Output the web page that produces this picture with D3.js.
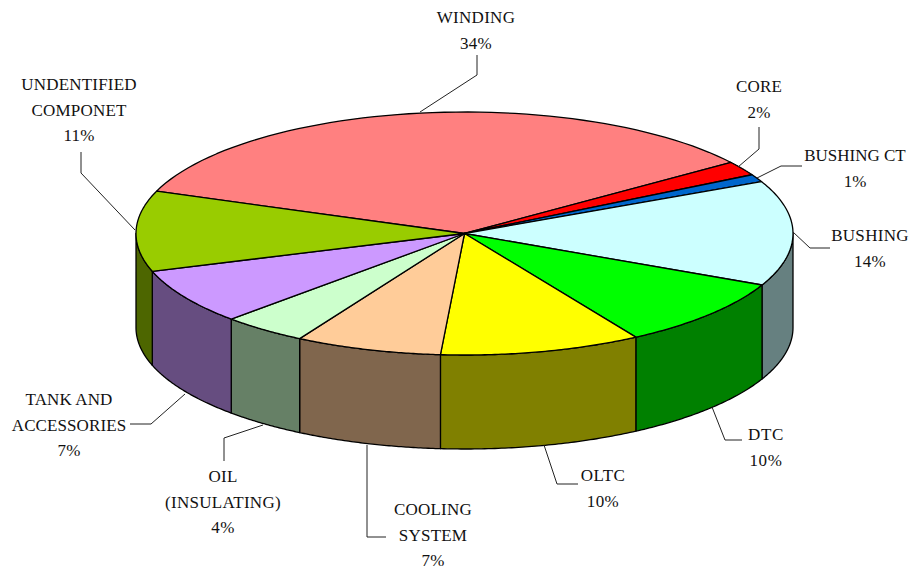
<!DOCTYPE html>
<html><head><meta charset="utf-8">
<script src="https://cdn.jsdelivr.net/npm/d3@7"></script>
<style>html,body{margin:0;padding:0;background:#fff}svg{display:block}
text{font-family:"Liberation Serif",serif;font-size:17px;fill:#111;text-anchor:middle}</style>
</head><body><svg id="c" width="909" height="569"></svg>
<script>
const categories=["WINDING","CORE","BUSHING CT","BUSHING","DTC","OLTC","COOLING SYSTEM","OIL (INSULATING)","TANK AND ACCESSORIES","UNDENTIFIED COMPONET"];
const drawnShares=[34.4,1.9,1.0,14.0,9.3,9.9,7.2,4.2,7.4,10.7];
const percentLabels=["34%","2%","1%","14%","10%","10%","7%","4%","7%","11%"];
const topColors=["#ff8080","#ff0000","#0066cc","#ccffff","#00ff00","#ffff00","#ffcc99","#ccffcc","#cc99ff","#99cc00"];
const sideColors=["#804040","#800000","#003366","#668080","#008000","#808000","#80664d","#668066","#664d80","#4d6600"];
const labelLines=[["WINDING"],["CORE"],["BUSHING CT"],["BUSHING"],["DTC"],["OLTC"],["COOLING","SYSTEM"],["OIL","(INSULATING)"],["TANK AND","ACCESSORIES"],["UNDENTIFIED","COMPONET"]];
const labelAnchors=[[476,23],[759,92],[855,161],[870,241],[766,440],[603,481],[433,515],[223,482],[69,405],[79,90]];
const labelSpacing=[0.3,0.2,0,0.3,0.6,0.4,0.2,0.3,0.1,0.2];
const leaders=[[[477,55],[477,75],[420,112]],[[759,127],[759,149],[738,167]],[[802,166],[781,166],[757,178]],[[830,248],[810,248],[793,232]],[[742,440],[725,440],[712,407]],[[578,484],[557,484],[544,445]],[[386,537],[367,537],[367,445]],[[224,461],[224,438],[263,425]],[[130,424],[151,424],[185,394]],[[81,152],[81,173],[135,230]]];

const svg=d3.select("#c");
const x=d3.scaleLinear().domain([-1,1]).range([136,793]);
const y=d3.scaleLinear().domain([-1,1]).range([112,355]);
const depth=94;
const rad=Math.PI/180;
const pie=d3.pie().sort(null).startAngle(-69.6*rad).endAngle((360-69.6)*rad);
const arcs=pie(drawnShares);
const line=d3.line();
const pt=(a,dy=0)=>[x(Math.sin(a)),y(-Math.cos(a))+dy];
const samples=(a0,a1,dy=0)=>d3.range(0,61).map(i=>pt(a0+(a1-a0)*i/60,dy));

const lo=90*rad,hi=270*rad;
arcs.forEach((d,i)=>{
  const a0=Math.max(d.startAngle,lo),a1=Math.min(d.endAngle,hi);
  if(a1<=a0)return;
  const ring=samples(a0,a1).concat(samples(a1,a0,depth));
  svg.append("path").attr("d",line(ring)+"Z").attr("fill",sideColors[i])
    .attr("stroke","#000").attr("stroke-width",1.3).attr("stroke-linejoin","round");
});
arcs.forEach((d,i)=>{
  const poly=[[x(0),y(0)]].concat(samples(d.startAngle,d.endAngle));
  svg.append("path").attr("d",line(poly)+"Z").attr("fill",topColors[i])
    .attr("stroke","#000").attr("stroke-width",1.3).attr("stroke-linejoin","round");
});
leaders.forEach(p=>svg.append("path").attr("d",line(p)).attr("fill","none").attr("stroke","#222").attr("stroke-width",1));
categories.forEach((c,i)=>{
  const t=svg.append("text").attr("x",labelAnchors[i][0]).attr("y",labelAnchors[i][1]).attr("letter-spacing",labelSpacing[i]);
  labelLines[i].concat(percentLabels[i]).forEach((s,j)=>{
    t.append("tspan").attr("x",labelAnchors[i][0]).attr("dy",j?25.5:0).text(s);
  });
});
</script></body></html>
